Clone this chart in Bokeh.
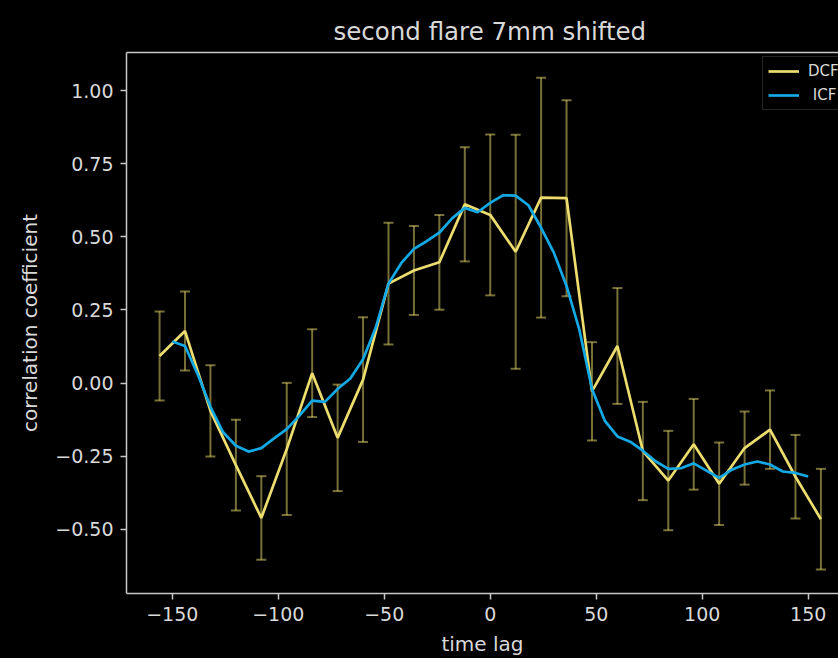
from bokeh.plotting import figure
from bokeh.models import (ColumnDataSource, Whisker, TeeHead, FixedTicker, LinearAxis,
                          Legend, LegendItem, Range1d)
from bokeh.embed import file_html
from bokeh.resources import INLINE

# ---- data -------------------------------------------------------------
dcf_lag = [-156, -144, -132, -120, -108, -96, -84, -72, -60, -48, -36, -24, -12, 0,
           12, 24, 36, 48, 60, 72, 84, 96, 108, 120, 132, 144, 156]
dcf_val = [0.093, 0.178, -0.095, -0.28, -0.461, -0.225, 0.034, -0.187, 0.012, 0.34,
           0.385, 0.413, 0.611, 0.575, 0.449, 0.634, 0.632, -0.028, 0.127, -0.232,
           -0.333, -0.209, -0.344, -0.222, -0.159, -0.32, -0.465]
dcf_err = [0.152, 0.135, 0.156, 0.155, 0.143, 0.226, 0.15, 0.182, 0.213, 0.208,
           0.152, 0.162, 0.195, 0.275, 0.40, 0.41, 0.335, 0.168, 0.198, 0.168,
           0.17, 0.155, 0.141, 0.125, 0.134, 0.143, 0.172]

icf_lag = [-150, -144, -138, -132, -126, -120, -114, -108, -102, -96, -90, -84, -78,
           -72, -66, -60, -54, -48, -42, -36, -30, -24, -18, -12, -6, 0, 6, 12, 18,
           24, 30, 36, 42, 48, 54, 60, 66, 72, 78, 84, 90, 96, 102, 108, 114, 120,
           126, 132, 138, 144, 150]
icf_val = [0.142, 0.127, 0.03, -0.081, -0.168, -0.214, -0.234, -0.222, -0.189, -0.157,
           -0.111, -0.06, -0.064, -0.02, 0.016, 0.082, 0.19, 0.34, 0.41, 0.459, 0.485,
           0.514, 0.563, 0.599, 0.584, 0.616, 0.642, 0.641, 0.608, 0.531, 0.446, 0.332,
           0.184, -0.02, -0.128, -0.182, -0.2, -0.231, -0.267, -0.293, -0.291, -0.274,
           -0.299, -0.324, -0.296, -0.278, -0.268, -0.278, -0.302, -0.307, -0.319]

x_ticks = [-150, -100, -50, 0, 50, 100, 150]
x_tick_labels = ["\u2212150", "\u2212100", "\u221250", "0", "50", "100", "150"]
y_ticks = [-0.5, -0.25, 0.0, 0.25, 0.5, 0.75, 1.0]
y_tick_labels = ["\u22120.50", "\u22120.25", "0.00", "0.25", "0.50", "0.75", "1.00"]

title_text = "second flare 7mm shifted"
x_label = "time lag"
y_label = "correlation coefficient"
series_names = ["DCF", "\u00a0ICF"]

# ---- styling ------------------------------------------------------------
FONT = "DejaVu Sans"
TXT = "#d9d9d9"
AX = "#c8c8c8"
DCF_C = "#ecdd6e"
ICF_C = "#14a9e4"

p = figure(width=838, height=658, output_backend="svg", toolbar_location=None,
           x_range=Range1d(-171.6, 164.3), y_range=Range1d(-0.719, 1.130),
           min_border_left=126, min_border_right=0, min_border_top=52,
           min_border_bottom=63)
p.background_fill_color = "black"
p.border_fill_color = "black"
p.outline_line_color = None
p.grid.visible = False

p.title.text = title_text
p.title.text_font = FONT
p.title.text_font_size = "24.5px"
p.title.text_font_style = "normal"
p.title.text_color = TXT
p.title.align = "left"
p.title.offset = 207
p.title.standoff = 14

for ax in (p.xaxis[0], p.yaxis[0]):
    ax.axis_line_color = AX
    ax.axis_line_width = 1.5
    ax.major_tick_line_color = AX
    ax.major_tick_line_width = 1.5
    ax.major_tick_out = 6
    ax.major_tick_in = 0
    ax.minor_tick_line_color = None
    ax.major_label_text_font = FONT
    ax.major_label_text_font_size = "19px"
    ax.major_label_text_color = TXT
    ax.axis_label_text_font = FONT
    ax.axis_label_text_font_size = "20px"
    ax.axis_label_text_font_style = "normal"
    ax.axis_label_text_color = TXT

p.xaxis.ticker = FixedTicker(ticks=x_ticks)
p.xaxis.major_label_overrides = dict(zip(x_ticks, x_tick_labels))
p.xaxis.axis_label = x_label
p.xaxis.major_label_standoff = 7
p.xaxis.axis_label_standoff = 8

p.yaxis.ticker = FixedTicker(ticks=y_ticks)
p.yaxis.major_label_overrides = dict(zip(y_ticks, y_tick_labels))
p.yaxis.axis_label = y_label
p.yaxis.major_label_standoff = 7
p.yaxis.axis_label_standoff = 10

top = LinearAxis(ticker=FixedTicker(ticks=[]), axis_line_color=AX, axis_line_width=1.5,
                 major_tick_line_color=None, minor_tick_line_color=None,
                 major_label_text_font_size="0px")
p.add_layout(top, "above")

# ---- data renderers -----------------------------------------------------
src = ColumnDataSource(dict(x=dcf_lag, y=dcf_val,
                            lo=[v - e for v, e in zip(dcf_val, dcf_err)],
                            hi=[v + e for v, e in zip(dcf_val, dcf_err)]))
wk = Whisker(source=src, base="x", upper="hi", lower="lo", dimension="height",
             line_color=DCF_C, line_alpha=0.5, line_width=2, level="underlay",
             upper_head=TeeHead(size=10, line_color=DCF_C, line_alpha=0.5, line_width=2),
             lower_head=TeeHead(size=10, line_color=DCF_C, line_alpha=0.5, line_width=2))
p.add_layout(wk)

r_dcf = p.line("x", "y", source=src, line_color=DCF_C, line_width=2.7)
r_icf = p.line(icf_lag, icf_val, line_color=ICF_C, line_width=2.7)

legend = Legend(items=[LegendItem(label=series_names[0], renderers=[r_dcf]),
                       LegendItem(label=series_names[1], renderers=[r_icf])],
                location=(636, 483), background_fill_color="black",
                background_fill_alpha=1.0, border_line_color="#4a4a4a",
                border_line_width=1.5, padding=5, spacing=6, glyph_width=31,
                glyph_height=16, label_height=16, label_standoff=9,
                label_text_font=FONT, label_text_font_size="15px",
                label_text_color=TXT, margin=0)
p.add_layout(legend)

html = file_html(p, INLINE)
html = html.replace("<head>", "<head><style>html,body{background:#000;}</style>", 1)
open("out.html", "w").write(html)
